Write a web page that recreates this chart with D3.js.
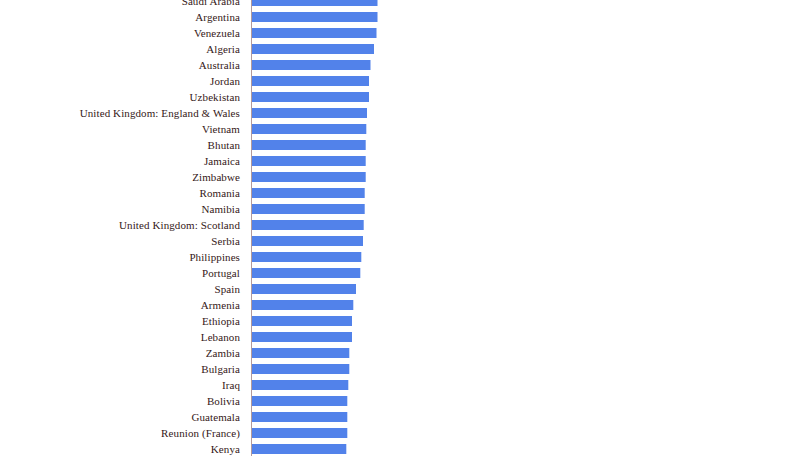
<!DOCTYPE html>
<html>
<head>
<meta charset="utf-8">
<script src="https://cdn.jsdelivr.net/npm/d3@7"></script>
<style>
  body { margin: 0; background: #fff; }
  svg { display: block; }
</style>
</head>
<body>
<svg id="chart" width="811" height="456"></svg>
<script>
// countries, top to bottom
var countries = ["Saudi Arabia", "Argentina", "Venezuela", "Algeria", "Australia", "Jordan",
  "Uzbekistan", "United Kingdom: England & Wales", "Vietnam", "Bhutan", "Jamaica", "Zimbabwe",
  "Romania", "Namibia", "United Kingdom: Scotland", "Serbia", "Philippines", "Portugal", "Spain",
  "Armenia", "Ethiopia", "Lebanon", "Zambia", "Bulgaria", "Iraq", "Bolivia", "Guatemala",
  "Reunion (France)", "Kenya"];

// values
var values = [125.5, 125.5, 124.5, 122, 118.5, 117, 117, 115, 114.3, 113.7, 113.7, 113.7,
  112.7, 112.7, 111.7, 111, 109.3, 108.3, 104, 101.3, 100, 100, 97.3, 97.3, 96.3, 95.3, 95.3,
  95.3, 94.3];

var data = countries.map(function (c, i) { return {name: c, value: values[i]}; });

var svg = d3.select("#chart");

var x = d3.scaleLinear()
    .domain([0, 130])
    .range([252, 382]);

var y = d3.scaleBand()
    .domain(countries)
    .range([-7, -7 + countries.length * 16])
    .paddingInner(0.375)
    .paddingOuter(0.1875);

svg.selectAll(".bar")
    .data(data)
    .enter()
    .append("rect")
    .attr("class", "bar")
    .attr("x", x(0))
    .attr("y", function (d) { return y(d.name); })
    .attr("width", function (d) { return x(d.value) - x(0); })
    .attr("height", y.bandwidth())
    .attr("fill", "#5282ea");

// axis line on the left of the bars
svg.append("line")
    .attr("x1", 251.5)
    .attr("x2", 251.5)
    .attr("y1", 0)
    .attr("y2", 456)
    .attr("stroke", "#b49a9a")
    .attr("stroke-width", 1);

svg.selectAll(".label")
    .data(data)
    .enter()
    .append("text")
    .attr("class", "label")
    .attr("x", 240)
    .attr("y", function (d) { return y(d.name) + y.bandwidth() / 2; })
    .attr("dy", "0.38em")
    .attr("text-anchor", "end")
    .attr("font-family", "Liberation Serif, Times New Roman, serif")
    .attr("font-size", 11)
    .attr("letter-spacing", "0.1px")
    .attr("fill", "#351818")
    .text(function (d) { return d.name; });
</script>
</body>
</html>
